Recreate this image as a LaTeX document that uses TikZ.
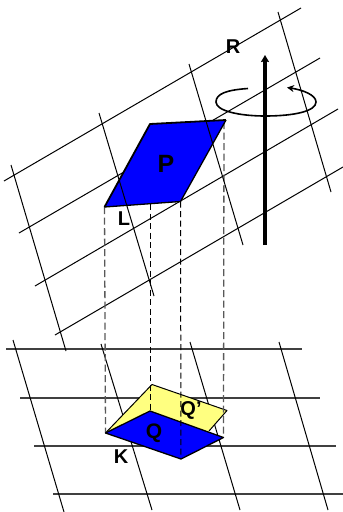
\documentclass[tikz,border=0pt]{standalone}
\usepackage{fontspec}
\setmainfont{Liberation Sans}
\usetikzlibrary{arrows.meta}
\tikzset{
  gridline/.style={black,line width=1pt},
  flatline/.style={black!75,line width=1.1pt},
  face/.style={draw=black,line join=round},
  projgrey/.style={black!65,line width=1.3pt,dash pattern=on 7pt off 3.5pt},
  projblack/.style={black,line width=1pt,dash pattern=on 6pt off 3.5pt},
  lab/.style={inner sep=0pt,font=\bfseries\fontsize{20}{20}\selectfont},
}
\begin{document}
\begin{tikzpicture}[x=1pt,y=-1pt]
\useasboundingbox (0,0) rectangle (343,512);
% upper plane grid, long lines
\draw[gridline] (4,181) -- (301,8);
\draw[gridline] (19,233) -- (320,58);
\draw[gridline] (35,286) -- (338,109);
\draw[gridline] (55,335) -- (343,167);
% lower plane grid
\draw[flatline] (6,349) -- (302,349);
\draw[flatline] (20,398) -- (320,398);
\draw[flatline] (34,446) -- (336,446);
\draw[flatline] (53,494) -- (343,494);
\draw[gridline] (13,340) -- (64,512);
\draw[gridline] (101,344) -- (152,510);
\draw[gridline] (190,342) -- (240,510);
\draw[gridline] (279,342) -- (328,510);
% corners
\coordinate (P1) at (104.5,207);
\coordinate (P2) at (150,124);
\coordinate (P3) at (226,120);
\coordinate (P4) at (180.5,201.5);
\coordinate (Q1) at (105.5,433);
\coordinate (Q2) at (150,411);
\coordinate (Q3) at (223.5,437.5);
\coordinate (Q4) at (181,459);
\coordinate (Y2) at (152,384.5);
\coordinate (Y3) at (227,410.5);
\coordinate (Y4) at (209,431);
% yellow face
\draw[face,fill={rgb,255:red,255;green,255;blue,128},line width=1pt] (Q1) -- (Y2) -- (Y3) -- (Y4);
% projection lines below the lower blue face
\draw[projgrey] (P1) -- (Q1);
\coordinate (Pb) at (150,204);
\draw[projblack] (Pb) -- (Q2);
\coordinate (Pc) at (224,122);
\draw[projgrey] (Pc) -- (Q3);
% blue faces
\draw[face,fill=blue,line width=1.3pt] (Q1) -- (Q2) -- (Q3) -- (Q4) -- cycle;
\draw[projblack] (P4) -- (Q4);
\fill[blue] (P1) -- (P2) -- (P3) -- (P4) -- cycle;
\draw[face,line width=1.8pt] (P1) -- (P2) -- (P3);
\draw[face,line width=1.3pt] (P3) -- (P4) -- (P1);
% upper plane grid, cross lines over the face
\draw[gridline] (11,165) -- (66,351);
\draw[gridline] (99,113) -- (154,296);
\draw[gridline] (189,64) -- (243,245);
\draw[gridline] (278,12) -- (331,192);
% rotation axis
\coordinate (A0) at (265,245);
\coordinate (A1) at (265,55);
\draw[line width=3.2pt,-{Stealth[length=7pt,width=8pt,inset=1pt]}] (A0) -- (A1);
% rotation arrow
\draw[line width=1.6pt,-{Stealth[length=7pt,width=7pt]}] (248,88.5)
  .. controls (226,90) and (216,94) .. (216,102)
  .. controls (216,111) and (240,116) .. (265,116)
  .. controls (295,116) and (316,111) .. (316,102)
  .. controls (316,95) and (303,90) .. (287,87.5);
% labels
\node[lab] (R) at (233,47) {R};
\node[lab,font=\bfseries\fontsize{25}{25}\selectfont] (P) at (166,164) {P};
\node[lab] (L) at (124,219) {L};
\node[lab] (Qp) at (191,410) {Q’};
\node[lab,font=\bfseries\fontsize{21}{21}\selectfont] (Q) at (154,433) {Q};
\node[lab] (K) at (121,457) {K};
\end{tikzpicture}
\end{document}
